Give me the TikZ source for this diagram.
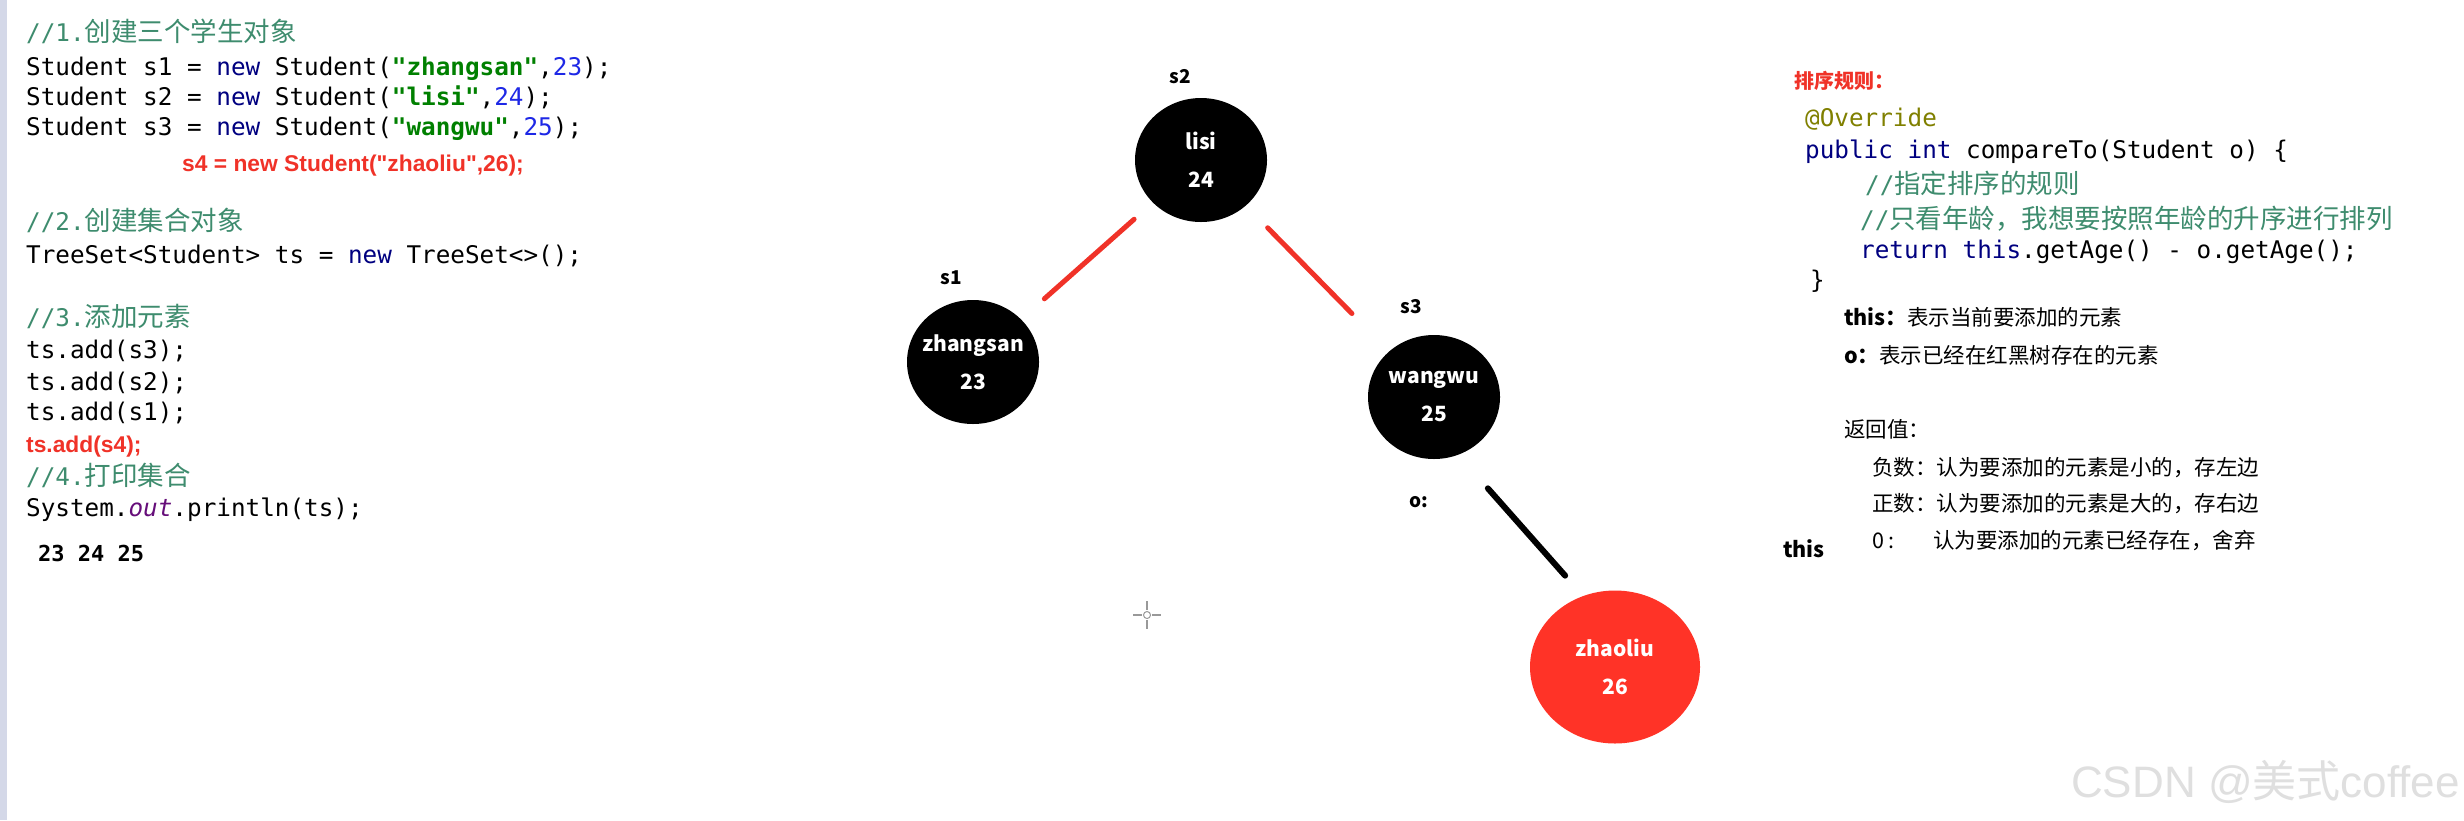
\documentclass[tikz,border=0pt]{standalone}
\usepackage{fontspec}
\setmainfont{Noto Sans CJK SC}
\setmonofont{DejaVu Sans Mono}
\newfontfamily\cjk{Noto Sans CJK SC}
\newfontfamily\wmfont{Liberation Sans}
\usetikzlibrary{shapes.geometric}
\definecolor{kwblue}{RGB}{0,0,128}
\definecolor{strgreen}{RGB}{0,128,0}
\definecolor{numblue}{RGB}{30,40,230}
\definecolor{cmtgreen}{RGB}{62,140,110}
\definecolor{fieldpurple}{RGB}{102,14,122}
\definecolor{annolive}{RGB}{128,128,0}
\definecolor{hotred}{RGB}{240,50,40}
\definecolor{nodered}{RGB}{255,51,39}
\definecolor{gutter}{RGB}{212,216,232}
\newcommand{\jkw}[1]{\textcolor{kwblue}{#1}}
\newcommand{\jstr}[1]{\textcolor{strgreen}{\bfseries#1}}
\newcommand{\jnum}[1]{\textcolor{numblue}{#1}}
\newcommand{\jcmt}[2]{\textcolor{cmtgreen}{#1{\cjk\fontsize{26.5}{30}\selectfont#2}}}
\newcommand{\stuinfo}[2]{\makebox[0pt]{#1}\\\makebox[0pt]{#2}}
\begin{document}
\begin{tikzpicture}[x=1pt,y=-1pt,
    code/.style={anchor=base west,inner sep=0pt,font=\fontsize{24.3}{28}\ttfamily},
    redcode/.style={anchor=base west,inner sep=0pt,text=hotred,font=\wmfont\fontsize{22.8}{26}\selectfont\bfseries},
    note/.style={anchor=base west,inner sep=0pt,font=\fontsize{21.5}{25}\selectfont},
    tag/.style={inner sep=0pt,font=\fontsize{19}{22}\selectfont\bfseries},
    stu/.style={ellipse,fill=black,text=white,minimum width=132pt,minimum height=124pt,
      inner sep=0pt,align=center,font=\fontsize{21}{38}\selectfont\bfseries},
    link/.style={line width=5pt,hotred,line cap=round}]
  \fill[white] (0,0) rectangle (2464,820);
  \useasboundingbox (0,0) rectangle (2464,820);
  \fill[gutter] (0,0) rectangle (7,820);

  % left code
  \node[code] (c1) at (26,41) {\jcmt{//1.}{创建三个学生对象}};
  \node[code] (c2) at (26,75) {Student s1 = \jkw{new} Student(\jstr{"zhangsan"},\jnum{23});};
  \node[code] (c3) at (26,105) {Student s2 = \jkw{new} Student(\jstr{"lisi"},\jnum{24});};
  \node[code] (c4) at (26,135) {Student s3 = \jkw{new} Student(\jstr{"wangwu"},\jnum{25});};
  \node[redcode] (c5) at (182,171) {s4 = new Student("zhaoliu",26);};
  \node[code] (c6) at (26,230) {\jcmt{//2.}{创建集合对象}};
  \node[code] (c7) at (26,263) {TreeSet<Student> ts = \jkw{new} TreeSet<>();};
  \node[code] (c8) at (26,326) {\jcmt{//3.}{添加元素}};
  \node[code] (c9) at (26,358) {ts.add(s3);};
  \node[code] (c10) at (26,390) {ts.add(s2);};
  \node[code] (c11) at (26,420) {ts.add(s1);};
  \node[redcode] (c12) at (26,452) {ts.add(s4);};
  \node[code] (c13) at (26,485) {\jcmt{//4.}{打印集合}};
  \node[code] (c14) at (26,516) {System.\textcolor{fieldpurple}{\itshape out}.println(ts);};
  \node[code,font=\fontsize{22}{26}\ttfamily\bfseries] (res) at (38,561) {23 24 25};

  % tree
  \node[tag] (t2) at (1180,77) {s2};
  \node[stu] (s2) at (1201,160) {\stuinfo{lisi}{24}};
  \node[tag] (t1) at (951,278) {s1};
  \node[stu] (s1) at (973,362) {\stuinfo{zhangsan}{23}};
  \node[tag] (t3) at (1411,307) {s3};
  \node[stu] (s3) at (1434,397) {\stuinfo{wangwu}{25}};
  \node[tag] (to) at (1419,502) {o:};
  \node[stu,fill=nodered,minimum width=170pt,minimum height=153pt] (s4) at (1615,667) {\stuinfo{zhaoliu}{26}};
  \draw[link,shorten <=25pt,shorten >=31pt] (s2) -- (s1);
  \draw[link,shorten <=31pt,shorten >=53pt] (s2) -- (s3);
  \draw[line width=6pt,line cap=round,shorten <=122pt,shorten >=122pt]
    ([xshift=-27pt]s3.center) -- ([xshift=31pt]s4.center);

  % cursor
  \draw[gray!80,line width=1.5pt] (1133,615) -- (1142,615) (1152,615) -- (1161,615)
    (1147,601) -- (1147,610) (1147,620) -- (1147,629);
  \draw[gray!80,line width=1pt] (1147,615) circle (3.5);

  % sort rule
  \node[anchor=base west,inner sep=0pt,text=hotred,font=\fontsize{20}{24}\selectfont\bfseries] (rule) at (1794,88) {排序规则：};
  \node[code,text=annolive] (r1) at (1805,126) {@Override};
  \node[code] (r2) at (1805,158) {\jkw{public int} compareTo(Student o) \{};
  \node[code] (r3) at (1865,193) {\jcmt{//}{指定排序的规则}};
  \node[code] (r4) at (1860,228) {\jcmt{//}{只看年龄，我想要按照年龄的升序进行排列}};
  \node[code] (r5) at (1860,258) {\jkw{return this}.getAge() - o.getAge();};
  \node[code] (r6) at (1810,288) {\}};

  \node[note] (n1) at (1844,325) {{\bfseries this：}表示当前要添加的元素};
  \node[note] (n2) at (1844,363) {{\bfseries o：}表示已经在红黑树存在的元素};
  \node[note] (n3) at (1844,437) {返回值：};
  \node[note] (n4) at (1872,475) {负数：认为要添加的元素是小的，存左边};
  \node[note] (n5) at (1872,511) {正数：认为要添加的元素是大的，存右边};
  \node[note] (n6) at (1872,548) {\makebox[61pt][l]{0 :}认为要添加的元素已经存在，舍弃};
  \node[note,font=\fontsize{21.5}{25}\selectfont\bfseries] (this) at (1783,557) {this};

  \node[anchor=base east,inner sep=0pt,text=gray!25,font=\wmfont\fontsize{44}{50}\selectfont] (wm) at (2460,797) {CSDN @{\cjk 美式}coffee};
\end{tikzpicture}
\end{document}
